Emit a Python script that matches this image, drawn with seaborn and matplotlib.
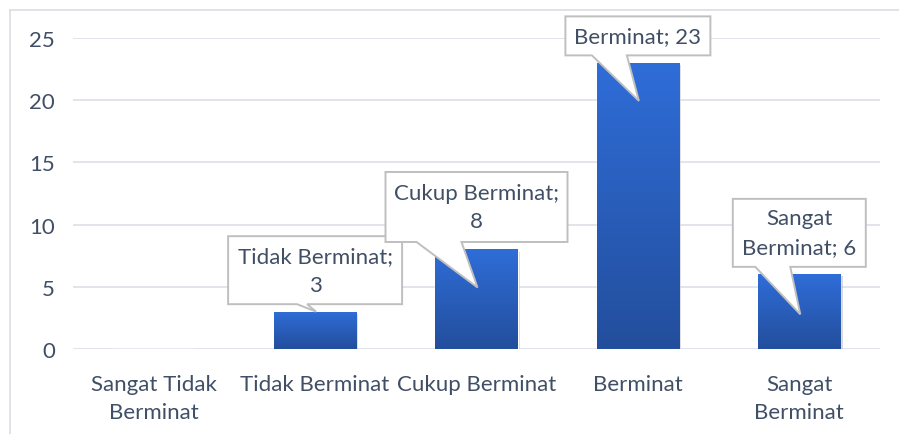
import numpy as np
import pandas as pd
import matplotlib
matplotlib.use("Agg")
import matplotlib.pyplot as plt
import seaborn as sns
from matplotlib.patches import Polygon
from matplotlib.lines import Line2D
from matplotlib.transforms import IdentityTransform
from matplotlib.colors import LinearSegmentedColormap
import matplotlib.patheffects as pe

# ---------------- data ----------------
categories = ["Sangat Tidak Berminat", "Tidak Berminat", "Cukup Berminat", "Berminat", "Sangat Berminat"]
tick_labels = ["Sangat Tidak\nBerminat", "Tidak Berminat", "Cukup Berminat", "Berminat", "Sangat\nBerminat"]
values = [0, 3, 8, 23, 6]
callout_texts = [None, "Tidak Berminat;\n3", "Cukup Berminat;\n8", "Berminat; 23", "Sangat\nBerminat; 6"]
y_ticks = [0, 5, 10, 15, 20, 25]

# ---------------- callout styling (pixels) ----------------
callout_w = [0, 174, 182, 145, 133]
callout_h = [0, 68, 70, 39, 68]
wedge_l = [0, -18, -60, -46, -44]
wedge_r = [0, -8, -15, -11, -9]
tip_depth = [0, 0, 38, 38, 40]
callout_gap = 7.5

TEXT = "#404F66"
GRID = "#E1E4EA"
FONT = ["Lato", "DejaVu Sans"]
FS = 16

sns.set_theme(style="white")
plt.rcParams["font.family"] = FONT

W, H = 899, 435
fig = plt.figure(figsize=(W / 100, H / 100), dpi=100)
ax = fig.add_axes([73 / W, 1 - 350 / H, (880 - 73) / W, (350 - 39) / H])

df = pd.DataFrame({"cat": categories, "val": values})
sns.barplot(data=df, x="cat", y="val", order=categories, color="#2A5DB8",
            width=0.51, ax=ax, zorder=3, saturation=1)

ax.set_ylim(0, 25)
ax.set_xlim(-0.5, len(categories) - 0.5)
ax.set_yticks(y_ticks)
ax.set_yticklabels([str(t) for t in y_ticks])
ax.set_xticks(range(len(categories)))
ax.set_xticklabels(tick_labels, linespacing=1.5)
ax.set_xlabel("")
ax.set_ylabel("")
for s in ax.spines.values():
    s.set_visible(False)
ax.tick_params(axis="both", length=0, colors=TEXT, labelsize=FS)
ax.tick_params(axis="y", pad=13)
ax.tick_params(axis="x", pad=18)
for t in ax.get_xticklabels() + ax.get_yticklabels():
    t.set_color(TEXT)
ax.yaxis.grid(True, color=GRID, linewidth=1.4, zorder=0)
ax.xaxis.grid(False)
ax.set_axisbelow(True)

# gradient fill on bars
cmap = LinearSegmentedColormap.from_list("g", ["#234E9C", "#2F6DD8"])
grad = np.linspace(0, 1, 256).reshape(-1, 1)
for p in ax.patches:
    x0, y0 = p.get_x(), p.get_y()
    w, h = p.get_width(), p.get_height()
    if h <= 0:
        continue
    p.set_path_effects([pe.SimplePatchShadow(offset=(1.5, -1.5), shadow_rgbFace="#BFBFBF", alpha=0.6), pe.Normal()])
    im = ax.imshow(grad, extent=[x0, x0 + w, y0, y0 + h], origin="lower",
                   aspect="auto", cmap=cmap, zorder=3.5)
    im.set_clip_path(p)

ax.set_ylim(0, 25)
ax.set_xlim(-0.5, len(categories) - 0.5)

# callouts
for i, (v, txt) in enumerate(zip(values, callout_texts)):
    if txt is None:
        continue
    cx, ty = ax.transData.transform((i, v))
    B = ty + callout_gap
    T = B + callout_h[i]
    L = cx - callout_w[i] / 2
    R = cx + callout_w[i] / 2
    verts = [(L, B), (cx + wedge_l[i], B), (cx + 1, ty - tip_depth[i]),
             (cx + wedge_r[i], B), (R, B), (R, T), (L, T)]
    poly = Polygon(verts, closed=True, transform=IdentityTransform(),
                   facecolor="white", edgecolor="#BFBFBF", linewidth=1.4,
                   zorder=10, clip_on=False)
    fig.add_artist(poly)
    fig.text((L + R) / 2 / W, (B + T) / 2 / H, txt, ha="center", va="center",
             fontsize=FS, color=TEXT, linespacing=1.55, zorder=11)

# chart border (left and top)
fig.add_artist(Line2D([9.5 / W, 9.5 / W], [0, 1 - 10.5 / H], color="#D9DDE3", linewidth=1.2))
fig.add_artist(Line2D([9.5 / W, 1], [1 - 10.5 / H, 1 - 10.5 / H], color="#D9DDE3", linewidth=1.2))

fig.savefig("out.png", dpi=100, facecolor="white")
